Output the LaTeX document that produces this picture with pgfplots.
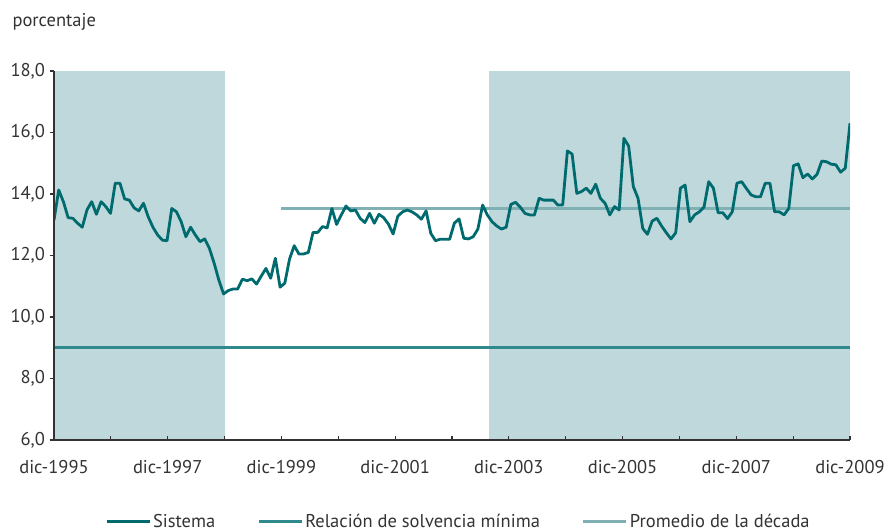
\documentclass[border=0pt]{standalone}
\usepackage{pgfplots}
\pgfplotsset{compat=1.18}
\usepackage{pgfplotstable}
\usepackage{fontspec}
\setmainfont{PT Sans}
\definecolor{sistema}{HTML}{006B6E}
\definecolor{solv}{HTML}{2E8A8C}
\definecolor{prom}{HTML}{7FB1B4}
\definecolor{shade}{HTML}{BED8DB}
\definecolor{axgray}{HTML}{333333}

\pgfplotstableread{
m v
0 13.15
1 14.13
2 13.75
3 13.23
4 13.21
5 13.05
6 12.92
7 13.48
8 13.75
9 13.34
10 13.75
11 13.59
12 13.37
13 14.35
14 14.35
15 13.84
16 13.80
17 13.55
18 13.45
19 13.70
20 13.26
21 12.92
22 12.67
23 12.50
24 12.48
25 13.53
26 13.42
27 13.10
28 12.61
29 12.92
30 12.67
31 12.45
32 12.54
33 12.23
34 11.75
35 11.20
36 10.75
37 10.86
38 10.91
39 10.91
40 11.23
41 11.18
42 11.24
43 11.07
44 11.33
45 11.58
46 11.26
47 11.91
48 10.97
49 11.10
50 11.88
51 12.32
52 12.05
53 12.05
54 12.10
55 12.75
56 12.75
57 12.94
58 12.90
59 13.53
60 13.01
61 13.32
62 13.61
63 13.45
64 13.48
65 13.21
66 13.07
67 13.37
68 13.05
69 13.34
70 13.23
71 13.02
72 12.70
73 13.28
74 13.42
75 13.48
76 13.42
77 13.32
78 13.18
79 13.45
80 12.72
81 12.48
82 12.53
83 12.53
84 12.53
85 13.05
86 13.19
87 12.56
88 12.54
89 12.61
90 12.86
91 13.64
92 13.32
93 13.10
94 12.96
95 12.86
96 12.92
97 13.66
98 13.73
99 13.57
100 13.37
101 13.32
102 13.32
103 13.86
104 13.80
105 13.80
106 13.80
107 13.64
108 13.64
109 15.40
110 15.30
111 14.02
112 14.08
113 14.19
114 14.02
115 14.32
116 13.86
117 13.70
118 13.32
119 13.59
120 13.48
121 15.81
122 15.56
123 14.24
124 13.86
125 12.88
126 12.69
127 13.12
128 13.21
129 12.96
130 12.74
131 12.54
132 12.74
133 14.19
134 14.29
135 13.10
136 13.32
137 13.42
138 13.57
139 14.40
140 14.19
141 13.39
142 13.39
143 13.20
144 13.42
145 14.35
146 14.40
147 14.18
148 13.97
149 13.91
150 13.91
151 14.35
152 14.35
153 13.42
154 13.42
155 13.32
156 13.53
157 14.92
158 14.98
159 14.53
160 14.65
161 14.49
162 14.64
163 15.07
164 15.05
165 14.97
166 14.95
167 14.71
168 14.84
169 16.30
}\sistema

\begin{document}
\begin{tikzpicture}
\path[use as bounding box] (-54bp,-91bp) rectangle (831bp,440bp);
\begin{axis}[
  at={(0,0)}, anchor=south west,
  scale only axis, width=796bp, height=369bp,
  font=\fontsize{18.5bp}{22bp}\selectfont,
  xmin=0, xmax=168, ymin=6, ymax=18,
  axis on top=true,
  axis x line*=bottom, axis y line*=left,
  axis line style={axgray, line width=1.3bp, -},
  xtick={0,12,...,168},
  xticklabels={dic-1995,,dic-1997,,dic-1999,,dic-2001,,dic-2003,,dic-2005,,dic-2007,,dic-2009},
  ytick={6,8,...,18},
  tick align=outside,
  major tick length=4.5bp,
  tick style={axgray, line width=1.1bp},
  x tick style={yshift=4.5bp},
  xticklabel style={yshift=-12bp, text=axgray},
  yticklabel style={text=axgray, xshift=-1bp},
  /pgf/number format/.cd, fixed, fixed zerofill, precision=1, use comma, assume math mode=true,
  /pgfplots/.cd,
  clip=true,
  legend columns=3,
  reverse legend,
  legend style={draw=none, fill=none, at={(0.508,-0.22)}, anchor=center,
    font=\fontsize{18.5bp}{22bp}\selectfont, text=axgray,
    /tikz/every even column/.append style={column sep=40bp}},
  legend image code/.code={\draw[#1, line width=3bp] (0bp,0bp) -- (43bp,0bp);},
]
\addplot[fill=shade, draw=none, forget plot] coordinates {(0,6) (0,18) (36.1,18) (36.1,6)} -- cycle;
\addplot[fill=shade, draw=none, forget plot] coordinates {(91.8,6) (91.8,18) (168,18) (168,6)} -- cycle;
\addplot[prom, line width=3bp] coordinates {(48,13.54) (168,13.54)};
\addlegendentry{Promedio de la década}
\addplot[solv, line width=2.8bp] coordinates {(0,9.0) (168,9.0)};
\addlegendentry{Relación de solvencia mínima}
\addplot[sistema, line width=2.8bp, line join=round] table[x expr=\thisrow{m}*168/169, y=v] {\sistema};
\addlegendentry{Sistema}
\end{axis}
\node[anchor=west, text=axgray, font=\fontsize{18.5bp}{22bp}\selectfont] at (-45bp,418bp) {porcentaje};
\end{tikzpicture}
\end{document}
